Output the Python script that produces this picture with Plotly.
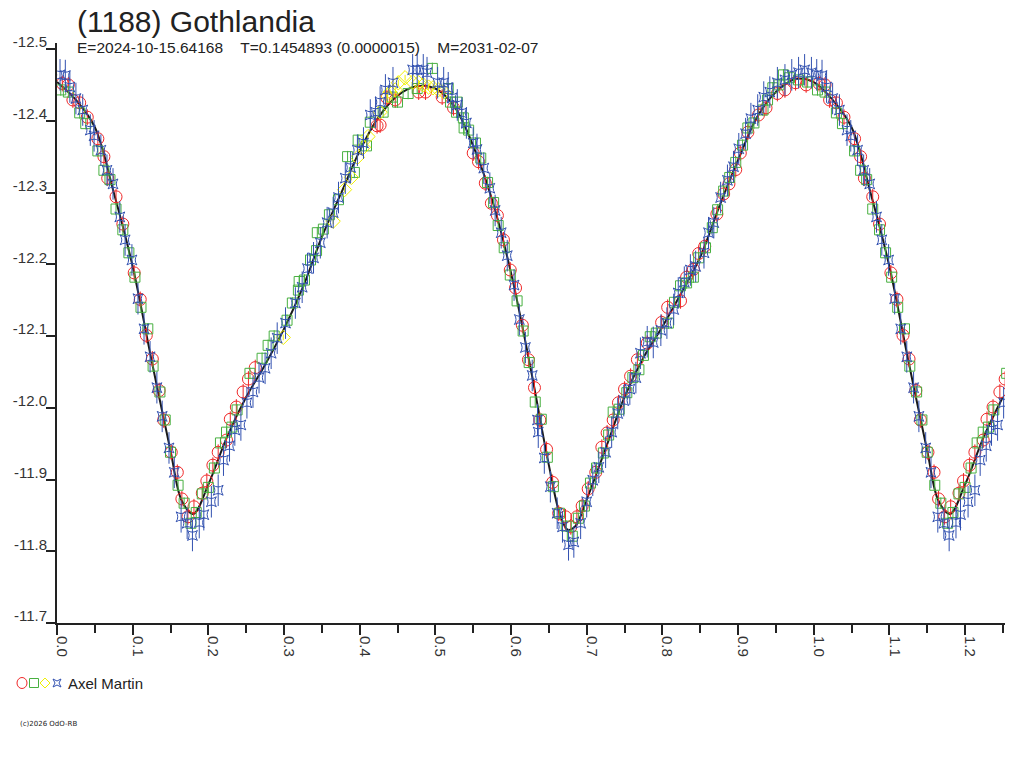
import plotly.graph_objects as go

# ---------------- text ----------------
title_text = "(1188) Gothlandia"
subtitle_text = "E=2024-10-15.64168    T=0.1454893 (0.0000015)    M=2031-02-07"
observer_name = "Axel Martin"
copyright_text = "(c)2026 OdO-RB"

# ---------------- ticks ----------------
y_tick_vals = [-12.5, -12.4, -12.3, -12.2, -12.1, -12.0, -11.9, -11.8, -11.7]
y_tick_text = ["-12.5", "-12.4", "-12.3", "-12.2", "-12.1", "-12.0", "-11.9", "-11.8", "-11.7"]
x_tick_vals = [0.0, 0.1, 0.2, 0.3, 0.4, 0.5, 0.6, 0.7, 0.8, 0.9, 1.0, 1.1, 1.2]
x_tick_text = ["0.0", "0.1", "0.2", "0.3", "0.4", "0.5", "0.6", "0.7", "0.8", "0.9", "1.0", "1.1", "1.2"]

# ---------------- data (phase, reduced magnitude) ----------------
red_phase = [0.007, 0.015, 0.021, 0.030, 0.040, 0.054, 0.062, 0.067, 0.078, 0.087, 0.102, 0.110, 0.118,
             0.126, 0.135, 0.141, 0.151, 0.159, 0.165, 0.173, 0.181, 0.192, 0.198, 0.206, 0.213, 0.224,
             0.229, 0.237, 0.246, 0.253, 0.262, 0.423, 0.427, 0.436, 0.447, 0.478, 0.487, 0.509, 0.524,
             0.550, 0.557, 0.566, 0.574, 0.582, 0.590, 0.599, 0.606, 0.615, 0.623, 0.631, 0.638, 0.647,
             0.655, 0.663, 0.672, 0.679, 0.687, 0.694, 0.702, 0.712, 0.720, 0.727, 0.735, 0.742, 0.750,
             0.758, 0.767, 0.780, 0.799, 0.807, 0.824, 0.832, 0.841, 0.848, 0.856, 0.872, 0.881, 0.888,
             0.897, 0.903, 0.913, 0.927, 0.937, 0.952, 0.962, 0.976, 0.990]
red_mag = [-12.452, -12.450, -12.429, -12.425, -12.405, -12.375, -12.350, -12.320, -12.294, -12.256, -12.188,
           -12.151, -12.101, -12.068, -12.024, -11.983, -11.938, -11.910, -11.873, -11.848, -11.862, -11.881,
           -11.898, -11.920, -11.938, -11.955, -11.984, -12.001, -12.022, -12.040, -12.056, -12.393, -12.394,
           -12.432, -12.429, -12.440, -12.440, -12.433, -12.418, -12.355, -12.343, -12.313, -12.285, -12.268,
           -12.234, -12.192, -12.167, -12.115, -12.067, -12.028, -11.983, -11.942, -11.896, -11.853, -11.848,
           -11.834, -11.848, -11.863, -11.887, -11.910, -11.945, -11.965, -11.983, -12.007, -12.026, -12.044,
           -12.067, -12.090, -12.119, -12.140, -12.149, -12.182, -12.193, -12.215, -12.225, -12.270, -12.298,
           -12.312, -12.332, -12.355, -12.384, -12.408, -12.418, -12.438, -12.443, -12.453, -12.450]

green_phase = [0.005, 0.015, 0.030, 0.038, 0.054, 0.062, 0.070, 0.078, 0.087, 0.095, 0.103, 0.111, 0.120,
               0.127, 0.136, 0.143, 0.150, 0.160, 0.168, 0.177, 0.184, 0.192, 0.200, 0.208, 0.216, 0.224,
               0.231, 0.238, 0.255, 0.271, 0.279, 0.287, 0.304, 0.311, 0.319, 0.320, 0.327, 0.335, 0.343,
               0.344, 0.352, 0.360, 0.372, 0.384, 0.393, 0.398, 0.409, 0.414, 0.431, 0.443, 0.450, 0.464,
               0.476, 0.496, 0.517, 0.520, 0.529, 0.528, 0.537, 0.538, 0.544, 0.553, 0.560, 0.569, 0.577,
               0.583, 0.591, 0.599, 0.608, 0.616, 0.624, 0.632, 0.640, 0.648, 0.656, 0.664, 0.673, 0.681,
               0.689, 0.697, 0.705, 0.713, 0.722, 0.729, 0.735, 0.743, 0.753, 0.761, 0.769, 0.775, 0.784,
               0.792, 0.808, 0.816, 0.824, 0.832, 0.841, 0.848, 0.857, 0.866, 0.873, 0.881, 0.889, 0.897,
               0.906, 0.913, 0.921, 0.933, 0.939, 0.946, 0.954, 0.960, 0.968, 0.980, 0.992]
green_mag = [-12.443, -12.440, -12.411, -12.396, -12.358, -12.331, -12.318, -12.277, -12.248, -12.216, -12.182,
             -12.140, -12.110, -12.058, -12.022, -11.983, -11.938, -11.892, -11.867, -11.839, -11.854, -11.880,
             -11.889, -11.916, -11.951, -11.966, -11.973, -11.997, -12.048, -12.069, -12.087, -12.100, -12.122,
             -12.146, -12.164, -12.176, -12.178, -12.206, -12.219, -12.244, -12.249, -12.269, -12.290, -12.350,
             -12.328, -12.373, -12.365, -12.398, -12.412, -12.433, -12.426, -12.438, -12.445, -12.473, -12.445,
             -12.426, -12.426, -12.412, -12.404, -12.390, -12.387, -12.369, -12.348, -12.314, -12.286, -12.254,
             -12.223, -12.185, -12.149, -12.107, -12.063, -12.008, -11.984, -11.931, -11.890, -11.853, -11.835,
             -11.821, -11.846, -11.863, -11.895, -11.916, -11.937, -11.962, -11.994, -11.998, -12.021, -12.042,
             -12.053, -12.073, -12.099, -12.104, -12.118, -12.147, -12.170, -12.174, -12.182, -12.209, -12.223,
             -12.251, -12.276, -12.302, -12.321, -12.342, -12.366, -12.390, -12.397, -12.415, -12.429, -12.446,
             -12.450, -12.464, -12.460, -12.457, -12.454]

yellow_phase = [0.299, 0.365, 0.380, 0.389, 0.397, 0.405, 0.411, 0.427, 0.437, 0.440, 0.447, 0.451, 0.460,
                0.470, 0.478, 0.484, 0.491, 0.497, 0.504, 0.511]
yellow_mag = [-12.098, -12.260, -12.304, -12.321, -12.349, -12.363, -12.378, -12.412, -12.435, -12.440,
              -12.443, -12.453, -12.460, -12.454, -12.453, -12.450, -12.447, -12.446, -12.443, -12.440]

blue_phase = [0.004, 0.011, 0.017, 0.025, 0.034, 0.044, 0.049, 0.058, 0.066, 0.074, 0.083, 0.090, 0.099,
              0.107, 0.115, 0.123, 0.132, 0.139, 0.148, 0.155, 0.164, 0.172, 0.179, 0.188, 0.194, 0.204,
              0.213, 0.220, 0.228, 0.235, 0.243, 0.251, 0.259, 0.267, 0.275, 0.283, 0.291, 0.302, 0.315,
              0.324, 0.331, 0.339, 0.348, 0.357, 0.365, 0.372, 0.381, 0.388, 0.397, 0.405, 0.414, 0.421,
              0.427, 0.434, 0.444, 0.470, 0.476, 0.484, 0.489, 0.503, 0.511, 0.517, 0.522, 0.529, 0.535,
              0.541, 0.550, 0.555, 0.564, 0.572, 0.579, 0.587, 0.595, 0.604, 0.611, 0.619, 0.628, 0.635,
              0.636, 0.644, 0.652, 0.661, 0.668, 0.676, 0.683, 0.692, 0.700, 0.708, 0.716, 0.725, 0.733,
              0.741, 0.749, 0.757, 0.765, 0.771, 0.780, 0.788, 0.798, 0.806, 0.815, 0.821, 0.829, 0.837,
              0.844, 0.855, 0.861, 0.868, 0.877, 0.886, 0.894, 0.901, 0.910, 0.917, 0.926, 0.934, 0.942,
              0.952, 0.962, 0.971, 0.980, 0.988, 0.997]
blue_mag = [-12.464, -12.463, -12.447, -12.431, -12.415, -12.387, -12.379, -12.359, -12.331, -12.312, -12.266,
            -12.234, -12.206, -12.152, -12.110, -12.071, -12.028, -11.988, -11.944, -11.910, -11.848, -11.839,
            -11.822, -11.840, -11.851, -11.869, -11.885, -11.927, -11.947, -11.969, -11.976, -12.007, -12.022,
            -12.042, -12.055, -12.076, -12.097, -12.118, -12.146, -12.168, -12.194, -12.209, -12.230, -12.258,
            -12.272, -12.293, -12.320, -12.335, -12.359, -12.369, -12.408, -12.412, -12.426, -12.443, -12.453,
            -12.471, -12.471, -12.471, -12.467, -12.453, -12.453, -12.446, -12.432, -12.422, -12.411, -12.397,
            -12.369, -12.360, -12.334, -12.306, -12.275, -12.244, -12.212, -12.171, -12.123, -12.084, -12.045,
            -11.983, -11.966, -11.930, -11.890, -11.853, -11.834, -11.809, -11.813, -11.839, -11.869, -11.899,
            -11.917, -11.938, -11.966, -11.992, -12.010, -12.026, -12.042, -12.076, -12.092, -12.091, -12.108,
            -12.118, -12.137, -12.160, -12.175, -12.192, -12.197, -12.216, -12.244, -12.258, -12.293, -12.317,
            -12.336, -12.361, -12.382, -12.403, -12.415, -12.433, -12.440, -12.453, -12.457, -12.464, -12.467,
            -12.471, -12.467]

red_err = 0.011
green_err = 0.008
yellow_err = 0.004
blue_err = 0.022

fit_phase = [0.000, 0.025, 0.050, 0.075, 0.100, 0.125, 0.150, 0.165, 0.180, 0.200, 0.225, 0.250, 0.275,
             0.300, 0.325, 0.350, 0.375, 0.400, 0.425, 0.450, 0.475, 0.500, 0.525, 0.550, 0.575, 0.600,
             0.625, 0.650, 0.665, 0.675, 0.685, 0.700, 0.725, 0.750, 0.775, 0.800, 0.825, 0.850, 0.875,
             0.900, 0.925, 0.950, 0.975, 1.000]
fit_mag = [-12.454, -12.429, -12.391, -12.300, -12.197, -12.066, -11.940, -11.870, -11.852, -11.893, -11.960,
           -12.015, -12.060, -12.110, -12.168, -12.238, -12.298, -12.358, -12.405, -12.435, -12.448, -12.445,
           -12.420, -12.365, -12.290, -12.188, -12.060, -11.920, -11.850, -11.830, -11.835, -11.872, -11.943,
           -12.015, -12.070, -12.113, -12.160, -12.210, -12.280, -12.345, -12.405, -12.440, -12.458, -12.454]

X_MAX = 1.2528
Y_TOP = -12.5084
Y_BOTTOM = -11.7


def extend(phase, mag):
    """Repeat the first part of the cycle after phase 1.0 (phase plot beyond one period)."""
    xs = list(phase)
    ys = list(mag)
    for p, m in zip(phase, mag):
        if 0 < p + 1.0 <= X_MAX + 0.005:
            xs.append(p + 1.0)
            ys.append(m)
    return xs, ys


fig = go.Figure()

fx, fy = extend(fit_phase[:-1], fit_mag[:-1])
order = sorted(range(len(fx)), key=lambda i: fx[i])
fx = [fx[i] for i in order]
fy = [fy[i] for i in order]
fig.add_trace(go.Scatter(x=fx, y=fy, mode="lines", line=dict(color="#1a1a1a", width=2, shape="spline"),
                         hoverinfo="skip"))

series = [
    (red_phase, red_mag, red_err, "#f02828", "circle-open", 12),
    (green_phase, green_mag, green_err, "#48b040", "square-open", 10),
    (yellow_phase, yellow_mag, yellow_err, "#f0f000", "diamond-open", 11),
    (blue_phase, blue_mag, blue_err, "#3150b0", "star-square-open", 9),
]
for ph, mg, er, col, sym, sz in series:
    xs, ys = extend(ph, mg)
    fig.add_trace(go.Scatter(
        x=xs, y=ys, mode="markers",
        marker=dict(symbol=sym, size=sz, color=col, line=dict(color=col, width=1)),
        error_y=dict(type="constant", value=er, color=col, thickness=1, width=0),
    ))

ax_font = dict(family="Liberation Sans, Arial, sans-serif", size=15, color="#333333")

fig.update_layout(
    width=1024, height=768,
    margin=dict(l=57, r=19, t=43, b=145, pad=0),
    paper_bgcolor="white", plot_bgcolor="white",
    showlegend=False,
    font=ax_font,
    xaxis=dict(
        range=[0, X_MAX], tickvals=x_tick_vals, ticktext=x_tick_text, tickangle=90,
        ticks="outside", ticklen=10, tickwidth=1.5, tickcolor="#222222",
        showline=True, linecolor="#222222", linewidth=2, showgrid=False, zeroline=False,
        minor=dict(dtick=0.05, tick0=0, ticks="outside", ticklen=8, tickwidth=1.5, tickcolor="#222222",
                   showgrid=False),
        ticklabelshift=5, ticklabelstandoff=-2, tickfont=ax_font,
    ),
    yaxis=dict(
        range=[Y_BOTTOM, Y_TOP], tickvals=y_tick_vals, ticktext=y_tick_text,
        ticks="outside", ticklen=9, tickwidth=1.5, tickcolor="#222222",
        showline=True, linecolor="#222222", linewidth=2, showgrid=False, zeroline=False,
        ticklabelshift=7, ticklabelstandoff=-4, tickfont=ax_font,
    ),
)

PLOT_L, PLOT_R, PLOT_T, PLOT_B = 57, 1005, 43, 623


def px(x):
    return (x - PLOT_L) / (PLOT_R - PLOT_L)


def py(y):
    return (PLOT_B - y) / (PLOT_B - PLOT_T)


fig.add_annotation(x=px(75), y=py(21), xref="paper", yref="paper", xanchor="left", yanchor="middle",
                   text=title_text, showarrow=False,
                   font=dict(family="Liberation Sans, Arial, sans-serif", size=30, color="#222222"))
fig.add_annotation(x=px(75), y=py(48), xref="paper", yref="paper", xanchor="left", yanchor="middle",
                   text=subtitle_text.replace(" ", "\u00a0"), showarrow=False,
                   font=dict(family="Liberation Sans, Arial, sans-serif", size=15.5, color="#222222"))
fig.add_annotation(x=px(66), y=py(683), xref="paper", yref="paper", xanchor="left", yanchor="middle",
                   text=observer_name, showarrow=False,
                   font=dict(family="Liberation Sans, Arial, sans-serif", size=15, color="#222222"))
fig.add_annotation(x=px(18), y=py(724), xref="paper", yref="paper", xanchor="left", yanchor="middle",
                   text=copyright_text, showarrow=False,
                   font=dict(family="DejaVu Sans, sans-serif", size=7, color="#222222"))

# legend glyphs
ly = py(683)
fig.add_shape(type="circle", xref="paper", yref="paper", xsizemode="pixel", ysizemode="pixel",
              xanchor=px(22), yanchor=ly, x0=-5, x1=5, y0=-5.5, y1=5.5, line=dict(color="#f02828", width=1))
fig.add_shape(type="rect", xref="paper", yref="paper", xsizemode="pixel", ysizemode="pixel",
              xanchor=px(34), yanchor=ly, x0=-4.5, x1=4.5, y0=-4.5, y1=4.5, line=dict(color="#48b040", width=1))
fig.add_shape(type="path", xref="paper", yref="paper", xsizemode="pixel", ysizemode="pixel",
              xanchor=px(45), yanchor=ly, path="M -5 0 L 0 5 L 5 0 L 0 -5 Z", line=dict(color="#f0f000", width=1))
fig.add_shape(type="path", xref="paper", yref="paper", xsizemode="pixel", ysizemode="pixel",
              xanchor=px(57), yanchor=ly,
              path="M -4 -4 L 0 -2 L 4 -4 L 2 0 L 4 4 L 0 2 L -4 4 L -2 0 Z", line=dict(color="#3150b0", width=1))

fig.write_html("out.html", config={"displayModeBar": False},
               post_script="document.body.style.margin='0';document.body.style.overflow='hidden';")
